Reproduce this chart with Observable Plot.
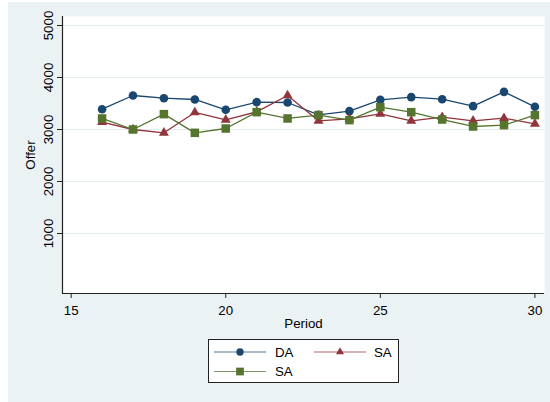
<!DOCTYPE html>
<html><head><meta charset="utf-8">
<script src="https://cdn.jsdelivr.net/npm/d3@7"></script>
<script src="https://cdn.jsdelivr.net/npm/@observablehq/plot@0.6"></script>
<style>
html,body{margin:0;padding:0;background:#fff;}
#wrap{position:absolute;left:8px;top:2px;width:542px;height:400px;background:#eaf2f3;}
#wrap svg{display:block;}
#legend{position:absolute;left:200px;top:337px;width:189px;height:42px;background:#fff;border:1px solid #222;}
#legend svg{position:absolute;left:0;top:0;}
</style></head><body>
<div id="wrap"><div id="legend"></div></div>
<script>
// ---- data ----
const periods = [16, 17, 18, 19, 20, 21, 22, 23, 24, 25, 26, 27, 28, 29, 30];
const DA  = [3390, 3654, 3602, 3577, 3379, 3526, 3519, 3282, 3353, 3571, 3622, 3583, 3449, 3724, 3436];
const SA1 = [3140, 3000, 2936, 3327, 3186, 3340, 3654, 3167, 3205, 3301, 3167, 3237, 3167, 3217, 3109];
const SA2 = [3212, 3000, 3295, 2936, 3019, 3333, 3212, 3276, 3180, 3429, 3333, 3192, 3058, 3083, 3276];
const seriesNames = ["DA", "SA", "SA"];
const xTicks = [15, 20, 25, 30];
const yTicks = [1000, 2000, 3000, 4000, 5000];

const colors = ["#1a476f", "#90353b", "#55752f"];
const symbols = ["circle", "triangle", "square"];
const radii = [4.3, 3.7, 4.8];
const seriesValues = [DA, SA1, SA2];

const xDomain = [14.72, 30.31];
const yDomain = [-154, 5173];
const font = "'Liberation Sans', Arial, sans-serif";

const seriesMarks = seriesValues.flatMap((vals, s) => {
  const rows = periods.map((p, i) => ({period: p, offer: vals[i]}));
  return [
    Plot.line(rows, {x: "period", y: "offer", stroke: colors[s], strokeWidth: 1.3}),
    Plot.dot(rows, {x: "period", y: "offer", symbol: () => symbols[s], r: radii[s], fill: colors[s], stroke: "none"})
  ];
});

const chart = Plot.plot({
  width: 542, height: 400,
  marginLeft: 54, marginRight: 6, marginTop: 14, marginBottom: 109,
  style: {background: "transparent", fontFamily: font, fontSize: "13.3px", color: "#000"},
  x: {domain: xDomain},
  y: {domain: yDomain},
  symbol: {type: "identity"},
  marks: [
    Plot.frame({fill: "white", stroke: "none"}),
    Plot.gridY(yTicks, {stroke: "#e3ecee", strokeOpacity: 1, strokeWidth: 1.2}),
    Plot.axisY(yTicks, {tickRotate: -90, tickSize: 5, tickPadding: 5, tickFormat: d => String(d), label: "Offer", labelAnchor: "center", labelArrow: "none", labelOffset: 37, stroke: "#222"}),
    Plot.axisX(xTicks, {tickSize: 5, tickPadding: 7, tickFormat: d => String(d), label: "Period", labelAnchor: "center", labelArrow: "none", labelOffset: 34, stroke: "#222"}),
    Plot.ruleX([xDomain[0]], {stroke: "#222", strokeWidth: 1.2}),
    Plot.ruleY([yDomain[0]], {stroke: "#222", strokeWidth: 1.2}),
    ...seriesMarks
  ]
});
document.getElementById("wrap").insertBefore(chart, document.getElementById("legend"));

// ---- legend ----
const ns = "http://www.w3.org/2000/svg";
const lg = document.createElementNS(ns, "svg");
lg.setAttribute("width", 189); lg.setAttribute("height", 42);
const cols = [{x0: 5, x1: 57, m: 31, t: 66}, {x0: 105, x1: 157, m: 131, t: 165}];
const rowsY = [12, 31.5];
seriesNames.forEach((name, s) => {
  const c = cols[s % 2], y = rowsY[Math.floor(s / 2)];
  const line = document.createElementNS(ns, "line");
  line.setAttribute("x1", c.x0); line.setAttribute("x2", c.x1);
  line.setAttribute("y1", y); line.setAttribute("y2", y);
  line.setAttribute("stroke", colors[s]); line.setAttribute("stroke-width", 1); line.setAttribute("stroke-opacity", 0.75);
  lg.appendChild(line);
  const path = document.createElementNS(ns, "path");
  const sym = [d3.symbolCircle, d3.symbolTriangle, d3.symbolSquare][s];
  path.setAttribute("d", d3.symbol(sym, [42, 28, 60][s])());
  path.setAttribute("transform", `translate(${c.m},${y})`);
  path.setAttribute("fill", colors[s]);
  lg.appendChild(path);
  const t = document.createElementNS(ns, "text");
  t.setAttribute("x", c.t); t.setAttribute("y", y);
  t.setAttribute("dy", "0.36em");
  t.setAttribute("font-family", font);
  t.setAttribute("font-size", "13.3px");
  t.textContent = name;
  lg.appendChild(t);
});
document.getElementById("legend").appendChild(lg);
</script>
</body></html>
